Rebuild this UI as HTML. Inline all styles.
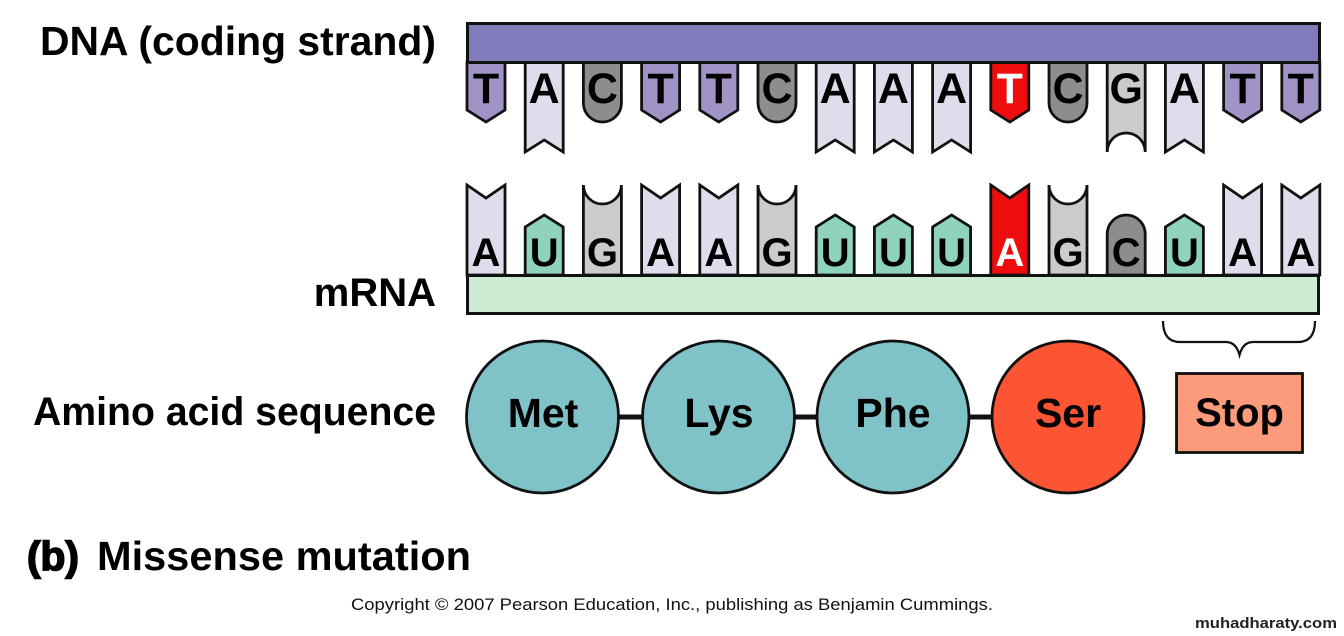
<!DOCTYPE html>
<html>
<head>
<meta charset="utf-8">
<style>
html,body{margin:0;padding:0;background:#fff;}
svg{display:block;}
text{font-family:"Liberation Sans",Arial,sans-serif;}
</style>
</head>
<body>
<svg width="1344" height="636" viewBox="0 0 1344 636" xmlns="http://www.w3.org/2000/svg">
<rect width="1344" height="636" fill="#fff"/>

<!-- Left labels -->
<text x="40" y="55" font-size="41" font-weight="bold" fill="#000" textLength="396" lengthAdjust="spacingAndGlyphs">DNA (coding strand)</text>
<text x="436" y="306" font-size="40" font-weight="bold" text-anchor="end" fill="#000">mRNA</text>
<text x="436" y="425" font-size="40" font-weight="bold" text-anchor="end" fill="#000" textLength="403" lengthAdjust="spacingAndGlyphs">Amino acid sequence</text>

<!-- DNA nucleotides -->
<g stroke="#111" stroke-width="2.8" stroke-linejoin="miter">
  <g transform="translate(467,0)"><path d="M0,62 V110 L19,122 L38,110 V62 Z" fill="#a293c6"/></g>
  <g transform="translate(525.2,0)"><path d="M0,62 V152 L19,140 L38,152 V62 Z" fill="#e1dcec"/></g>
  <g transform="translate(583.4,0)"><path d="M0,62 V103 A19,19 0 0 0 38,103 V62 Z" fill="#8d8d8d"/></g>
  <g transform="translate(641.6,0)"><path d="M0,62 V110 L19,122 L38,110 V62 Z" fill="#a293c6"/></g>
  <g transform="translate(699.8,0)"><path d="M0,62 V110 L19,122 L38,110 V62 Z" fill="#a293c6"/></g>
  <g transform="translate(758,0)"><path d="M0,62 V103 A19,19 0 0 0 38,103 V62 Z" fill="#8d8d8d"/></g>
  <g transform="translate(816.2,0)"><path d="M0,62 V152 L19,140 L38,152 V62 Z" fill="#e1dcec"/></g>
  <g transform="translate(874.4,0)"><path d="M0,62 V152 L19,140 L38,152 V62 Z" fill="#e1dcec"/></g>
  <g transform="translate(932.6,0)"><path d="M0,62 V152 L19,140 L38,152 V62 Z" fill="#e1dcec"/></g>
  <g transform="translate(990.8,0)"><path d="M0,62 V110 L19,122 L38,110 V62 Z" fill="#ee0d0d"/></g>
  <g transform="translate(1049,0)"><path d="M0,62 V103 A19,19 0 0 0 38,103 V62 Z" fill="#8d8d8d"/></g>
  <g transform="translate(1107.2,0)"><path d="M0,62 V152 A19,19 0 0 1 38,152 V62 Z" fill="#cbcbcb"/></g>
  <g transform="translate(1165.4,0)"><path d="M0,62 V152 L19,140 L38,152 V62 Z" fill="#e1dcec"/></g>
  <g transform="translate(1223.6,0)"><path d="M0,62 V110 L19,122 L38,110 V62 Z" fill="#a293c6"/></g>
  <g transform="translate(1281.8,0)"><path d="M0,62 V110 L19,122 L38,110 V62 Z" fill="#a293c6"/></g>
</g>

<!-- DNA bar -->
<rect x="467.5" y="23.5" width="852" height="39" fill="#807bba" stroke="#111" stroke-width="3"/>

<!-- DNA letters -->
<g font-size="43" font-weight="bold" text-anchor="middle" fill="#000">
  <text x="486" y="103">T</text>
  <text x="544.2" y="103">A</text>
  <text x="602.4" y="103">C</text>
  <text x="660.6" y="103">T</text>
  <text x="718.8" y="103">T</text>
  <text x="777" y="103">C</text>
  <text x="835.2" y="103">A</text>
  <text x="893.4" y="103">A</text>
  <text x="951.6" y="103">A</text>
  <text x="1009.8" y="103" fill="#fff">T</text>
  <text x="1068" y="103">C</text>
  <text x="1126.2" y="103">G</text>
  <text x="1184.4" y="103">A</text>
  <text x="1242.6" y="103">T</text>
  <text x="1300.8" y="103">T</text>
</g>

<!-- mRNA nucleotides -->
<g stroke="#111" stroke-width="2.8" stroke-linejoin="miter">
  <g transform="translate(467,0)"><path d="M0,275 V185 L19,198 L38,185 V275 Z" fill="#e1dcec"/></g>
  <g transform="translate(525.2,0)"><path d="M0,275 V227 L19,215 L38,227 V275 Z" fill="#90d3bb"/></g>
  <g transform="translate(583.4,0)"><path d="M0,275 V185 A19,19 0 0 0 38,185 V275 Z" fill="#cbcbcb"/></g>
  <g transform="translate(641.6,0)"><path d="M0,275 V185 L19,198 L38,185 V275 Z" fill="#e1dcec"/></g>
  <g transform="translate(699.8,0)"><path d="M0,275 V185 L19,198 L38,185 V275 Z" fill="#e1dcec"/></g>
  <g transform="translate(758,0)"><path d="M0,275 V185 A19,19 0 0 0 38,185 V275 Z" fill="#cbcbcb"/></g>
  <g transform="translate(816.2,0)"><path d="M0,275 V227 L19,215 L38,227 V275 Z" fill="#90d3bb"/></g>
  <g transform="translate(874.4,0)"><path d="M0,275 V227 L19,215 L38,227 V275 Z" fill="#90d3bb"/></g>
  <g transform="translate(932.6,0)"><path d="M0,275 V227 L19,215 L38,227 V275 Z" fill="#90d3bb"/></g>
  <g transform="translate(990.8,0)"><path d="M0,275 V185 L19,198 L38,185 V275 Z" fill="#ee0d0d"/></g>
  <g transform="translate(1049,0)"><path d="M0,275 V185 A19,19 0 0 0 38,185 V275 Z" fill="#cbcbcb"/></g>
  <g transform="translate(1107.2,0)"><path d="M0,275 V234 A19,19 0 0 1 38,234 V275 Z" fill="#8d8d8d"/></g>
  <g transform="translate(1165.4,0)"><path d="M0,275 V227 L19,215 L38,227 V275 Z" fill="#90d3bb"/></g>
  <g transform="translate(1223.6,0)"><path d="M0,275 V185 L19,198 L38,185 V275 Z" fill="#e1dcec"/></g>
  <g transform="translate(1281.8,0)"><path d="M0,275 V185 L19,198 L38,185 V275 Z" fill="#e1dcec"/></g>
</g>

<!-- mRNA bar -->
<rect x="467.5" y="275.5" width="851" height="38" fill="#cdebd3" stroke="#111" stroke-width="3"/>

<!-- mRNA letters -->
<g font-size="40" font-weight="bold" text-anchor="middle" fill="#000">
  <text x="486" y="266">A</text>
  <text x="544.2" y="266">U</text>
  <text x="602.4" y="266">G</text>
  <text x="660.6" y="266">A</text>
  <text x="718.8" y="266">A</text>
  <text x="777" y="266">G</text>
  <text x="835.2" y="266">U</text>
  <text x="893.4" y="266">U</text>
  <text x="951.6" y="266">U</text>
  <text x="1009.8" y="266" fill="#fff">A</text>
  <text x="1068" y="266">G</text>
  <text x="1126.2" y="266">C</text>
  <text x="1184.4" y="266">U</text>
  <text x="1242.6" y="266">A</text>
  <text x="1300.8" y="266">A</text>
</g>

<!-- Brace -->
<path d="M1163,321 Q1163,342 1180,342 L1226,342 Q1236,342 1239.5,355 Q1243,342 1253,342 L1298,342 Q1315,342 1315,321" fill="none" stroke="#111" stroke-width="2.2"/>

<!-- Amino acid chain -->
<line x1="542" y1="417" x2="1068" y2="417" stroke="#111" stroke-width="5"/>
<g stroke="#111" stroke-width="2.8">
  <circle cx="542.5" cy="417" r="76" fill="#7fc3c9"/>
  <circle cx="718.5" cy="417" r="76" fill="#7fc3c9"/>
  <circle cx="893" cy="417" r="76" fill="#7fc3c9"/>
  <circle cx="1068" cy="417" r="76" fill="#fd5433"/>
  <rect x="1176.5" y="373.5" width="126" height="79" fill="#fb9b7c"/>
</g>
<g font-size="41" font-weight="bold" text-anchor="middle" fill="#000">
  <text x="543" y="427">Met</text>
  <text x="719" y="427">Lys</text>
  <text x="893" y="427">Phe</text>
  <text x="1068" y="427">Ser</text>
  <text x="1239.5" y="426" font-size="40">Stop</text>
</g>

<!-- (b) Missense mutation -->
<text x="27" y="570" font-size="41" font-weight="bold" fill="#000" stroke="#000" stroke-width="1.6" textLength="52" lengthAdjust="spacingAndGlyphs">(b)</text>
<text x="97" y="570" font-size="41" font-weight="bold" fill="#000" textLength="374" lengthAdjust="spacingAndGlyphs">Missense mutation</text>

<!-- Copyright -->
<text x="351" y="610" font-size="16.5" fill="#111" textLength="642" lengthAdjust="spacingAndGlyphs">Copyright © 2007 Pearson Education, Inc., publishing as Benjamin Cummings.</text>

<!-- watermark -->
<text x="1195" y="628" font-size="15" font-weight="bold" fill="#222" textLength="142" lengthAdjust="spacingAndGlyphs">muhadharaty.com</text>
</svg>
</body>
</html>
